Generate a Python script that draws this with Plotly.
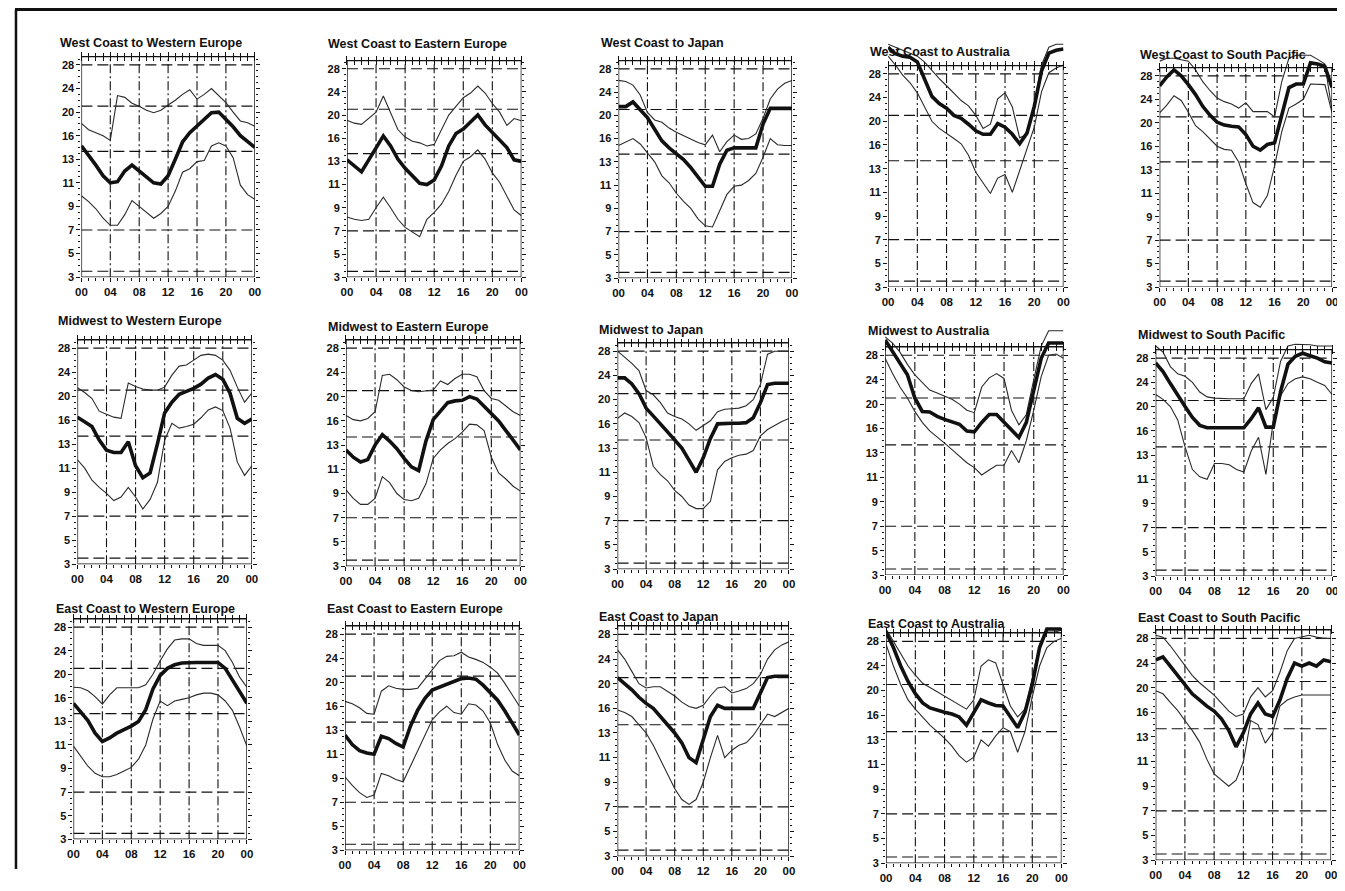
import numpy as np
import plotly.graph_objects as go

# HF propagation: maximum usable frequency (MHz) by hour UTC
HOURS = list(range(25))
TICK_MHZ = [3, 5, 7, 9, 11, 13, 16, 20, 24, 28]
TICK_TEXT = ["3", "5", "7", "9", "11", "13", "16", "20", "24", "28"]
HOUR_TICKS = [0, 4, 8, 12, 16, 20, 24]
HOUR_TEXT = ["00", "04", "08", "12", "16", "20", "00"]
BAND_LINES = [3.5, 7, 14, 21, 28]

TITLES = [
    "West Coast to Western Europe", "West Coast to Eastern Europe", "West Coast to Japan",
    "West Coast to Australia", "West Coast to South Pacific",
    "Midwest to Western Europe", "Midwest to Eastern Europe", "Midwest to Japan",
    "Midwest to Australia", "Midwest to South Pacific",
    "East Coast to Western Europe", "East Coast to Eastern Europe", "East Coast to Japan",
    "East Coast to Australia", "East Coast to South Pacific",
]

MEDIAN = [
    [14.7, 13.5, 12.5, 11.6, 11.0, 11.1, 12.0, 12.5, 12.0, 11.5, 11.0, 10.9, 11.6, 13.0, 15.2, 16.5, 17.6, 18.8, 19.9, 20.0, 18.8, 17.5, 16.0, 15.2, 14.5],
    [13.2, 12.6, 12.1, 13.2, 14.7, 16.4, 15.0, 13.3, 12.4, 11.7, 11.1, 11.0, 11.4, 12.6, 15.0, 16.8, 17.6, 18.8, 20.0, 18.3, 17.0, 15.8, 14.8, 13.2, 13.0],
    [21.5, 21.5, 22.3, 21.0, 19.6, 17.6, 15.7, 14.8, 14.0, 13.3, 12.5, 11.7, 10.9, 10.9, 12.8, 14.5, 14.8, 14.8, 14.8, 14.8, 18.5, 21.2, 21.2, 21.2, 21.2],
    [32.5, 31.4, 31.0, 30.8, 30.0, 27.0, 24.2, 23.0, 22.2, 21.0, 20.5, 19.5, 18.4, 17.8, 17.8, 19.6, 19.0, 17.8, 16.2, 18.0, 22.5, 28.5, 31.5, 32.0, 32.2],
    [26.3, 27.8, 29.0, 28.0, 26.5, 24.8, 22.8, 21.3, 20.1, 19.6, 19.4, 19.3, 18.0, 16.0, 15.5, 16.3, 16.6, 21.5, 26.0, 26.6, 26.6, 30.2, 30.0, 29.6, 26.0],
    [16.5, 15.8, 15.2, 13.5, 12.5, 12.3, 12.3, 13.3, 11.2, 10.2, 10.6, 13.0, 17.2, 19.0, 20.3, 20.8, 21.3, 22.0, 23.0, 23.6, 22.8, 20.5, 16.3, 15.6, 16.2],
    [12.6, 12.0, 11.6, 11.8, 13.0, 14.3, 13.5, 12.7, 11.9, 11.2, 10.9, 13.5, 16.2, 17.7, 19.0, 19.3, 19.4, 20.0, 19.6, 18.4, 17.2, 16.0, 14.8, 13.6, 12.6],
    [23.6, 23.6, 22.6, 21.0, 18.6, 17.2, 16.0, 15.0, 14.0, 13.0, 12.0, 11.0, 12.2, 14.2, 16.0, 16.1, 16.1, 16.1, 16.2, 17.0, 19.5, 22.5, 22.7, 22.7, 22.7],
    [30.5, 28.6, 26.8, 24.8, 21.0, 18.8, 18.7, 18.0, 17.5, 17.1, 16.7, 15.7, 15.6, 17.0, 18.3, 18.3, 17.0, 15.8, 14.9, 17.0, 22.0, 27.5, 30.0, 30.0, 30.0],
    [27.2, 25.8, 23.8, 21.8, 20.0, 18.2, 16.9, 16.5, 16.5, 16.5, 16.5, 16.5, 16.5, 18.0, 19.8, 16.6, 16.6, 22.5, 27.0, 28.3, 28.8, 28.4, 28.0, 27.4, 27.2],
    [15.3, 14.2, 13.1, 12.0, 11.3, 11.6, 12.0, 12.3, 12.6, 13.0, 14.5, 17.5, 19.8, 21.0, 21.6, 21.9, 22.0, 22.0, 22.0, 22.0, 22.0, 21.0, 19.0, 17.0, 15.3],
    [12.6, 11.8, 11.3, 11.1, 11.0, 12.5, 12.3, 11.9, 11.6, 13.5, 15.5, 17.3, 18.7, 19.2, 19.6, 20.1, 20.6, 20.7, 20.5, 19.5, 18.3, 17.0, 15.4, 14.0, 12.6],
    [21.0, 20.0, 19.0, 17.8, 16.8, 16.0, 15.0, 14.0, 13.0, 12.2, 11.0, 10.6, 12.5, 15.0, 16.5, 16.0, 16.0, 16.0, 16.0, 16.0, 18.5, 21.0, 21.2, 21.2, 21.2],
    [29.5, 27.0, 24.0, 21.5, 19.5, 18.0, 17.2, 16.8, 16.5, 16.2, 15.8, 14.8, 16.5, 18.5, 18.0, 17.6, 17.5, 15.8, 14.5, 16.5, 21.0, 27.0, 30.0, 30.0, 30.0],
    [24.5, 25.0, 23.5, 22.0, 20.5, 19.0, 18.0, 17.0, 16.2, 15.2, 13.8, 12.2, 13.5, 15.8, 17.5, 15.8, 15.5, 18.0, 21.5, 24.0, 23.5, 24.0, 23.5, 24.5, 24.2],
]

UPPER = [
    [18.1, 17.0, 16.5, 16.0, 15.4, 22.8, 22.5, 21.5, 21.0, 20.3, 19.9, 20.3, 21.2, 22.0, 23.0, 23.8, 22.2, 23.0, 24.0, 22.8, 21.6, 20.0, 18.5, 18.2, 17.6],
    [19.1, 18.6, 18.4, 19.5, 20.5, 23.3, 20.5, 17.5, 16.2, 15.6, 15.4, 15.0, 15.2, 17.5, 20.0, 21.5, 23.0, 23.8, 25.0, 23.8, 22.0, 20.5, 18.2, 19.4, 19.0],
    [26.0, 25.8, 25.2, 23.5, 20.5, 19.2, 18.8, 17.8, 17.1, 16.5, 16.0, 15.5, 15.2, 16.6, 14.3, 15.6, 16.6, 15.9, 16.0, 16.8, 19.5, 22.8, 24.5, 25.5, 26.0],
    [33.0, 32.5, 32.0, 31.5, 31.0, 30.0, 28.5, 27.2, 26.0, 24.8, 23.5, 22.6, 21.0, 18.8, 19.5, 23.8, 24.8, 22.4, 17.2, 17.8, 23.0, 29.5, 32.5, 33.0, 33.0],
    [30.5, 31.0, 31.0, 30.8, 30.5, 29.0, 27.0, 25.5, 24.2, 23.6, 23.2, 22.5, 23.4, 21.9, 21.9, 21.9, 21.0, 27.0, 31.0, 31.5, 31.5, 31.5, 30.8, 30.0, 22.0],
    [21.4, 20.6, 19.6, 17.5, 17.0, 16.5, 16.3, 22.2, 21.6, 21.2, 21.0, 21.0, 21.5, 23.5, 25.0, 25.2, 26.0, 26.8, 27.0, 26.8, 26.0, 24.3, 21.5, 19.0, 20.5],
    [16.9, 16.2, 16.0, 16.4, 17.5, 23.5, 23.7, 22.8, 21.6, 21.0, 20.8, 20.9, 21.1, 22.6, 22.0, 23.0, 23.7, 23.7, 23.3, 21.0, 19.7, 19.4, 18.5, 17.5, 16.9],
    [28.0, 27.0, 26.0, 24.8, 21.5, 20.8, 19.5, 17.8, 17.2, 16.8, 16.0, 15.2, 15.8, 16.5, 18.0, 18.4, 18.5, 18.6, 19.0, 20.0, 22.5, 27.5, 28.0, 28.0, 28.0],
    [31.0, 30.0, 28.5, 26.5, 24.8, 23.6, 22.3, 21.8, 21.3, 20.8, 20.0, 19.0, 18.6, 22.8, 24.3, 25.0, 24.2, 19.0, 16.6, 18.3, 24.0, 29.5, 32.0, 32.0, 32.0],
    [30.0, 29.0, 26.6, 25.4, 25.0, 24.0, 22.4, 21.6, 21.4, 21.3, 21.3, 21.3, 21.3, 23.8, 25.4, 19.5, 21.5, 27.5, 30.0, 30.3, 30.3, 30.2, 30.0, 30.0, 30.0],
    [17.8, 17.7, 17.2, 16.2, 15.2, 16.5, 17.7, 17.7, 17.7, 17.7, 18.2, 20.0, 22.3, 24.3, 25.8, 26.0, 26.0, 25.2, 24.9, 24.9, 24.9, 24.0, 22.0, 19.5, 17.8],
    [16.8, 16.4, 15.8, 15.1, 15.0, 18.5, 19.4, 19.0, 18.8, 18.8, 19.0, 20.5, 21.9, 23.6, 24.3, 24.4, 25.0, 24.2, 23.8, 23.3, 22.5, 21.5, 19.8, 17.8, 16.0],
    [25.5, 24.0, 22.0, 20.0, 19.3, 19.5, 19.5, 18.8, 18.0, 17.0, 16.3, 16.0, 16.5, 18.0, 19.3, 19.5, 18.5, 18.8, 19.2, 20.0, 21.5, 24.0, 25.5, 26.3, 26.8],
    [30.0, 28.0, 26.0, 24.0, 22.5, 21.2, 20.5, 19.8, 19.0, 18.3, 17.6, 17.0, 18.5, 24.0, 25.0, 24.5, 21.0, 17.5, 15.8, 17.0, 22.0, 27.5, 29.5, 29.5, 29.8],
    [28.5, 28.2, 26.8, 25.2, 23.5, 22.0, 20.8, 19.8, 18.8, 17.5, 16.2, 15.5, 15.8, 18.5, 20.0, 18.5, 19.5, 22.5, 26.0, 28.0, 28.2, 28.5, 28.2, 28.0, 28.0],
]

LOWER = [
    [9.9, 9.4, 8.8, 8.0, 7.4, 7.4, 8.3, 9.5, 9.0, 8.5, 8.0, 8.4, 9.0, 10.3, 11.9, 12.2, 12.8, 12.9, 14.7, 15.1, 14.7, 13.2, 10.8, 10.0, 9.6],
    [8.2, 8.0, 7.9, 8.0, 9.0, 9.9, 9.0, 8.0, 7.3, 6.9, 6.5, 8.0, 8.6, 9.3, 10.4, 11.8, 13.0, 13.6, 14.5, 13.3, 12.0, 11.2, 10.0, 8.8, 8.3],
    [15.1, 15.5, 16.0, 15.3, 14.2, 13.0, 11.8, 11.2, 10.3, 9.6, 9.0, 8.1, 7.5, 7.4, 8.8, 10.2, 10.9, 11.0, 11.4, 12.0, 13.6, 16.0, 15.2, 15.1, 15.1],
    [31.0, 29.5, 27.8, 26.5, 24.8, 22.5, 20.0, 18.8, 18.0, 17.1, 16.2, 14.7, 12.7, 11.8, 10.9, 12.2, 12.5, 11.0, 12.8, 15.5, 19.0, 25.0, 28.2, 29.0, 29.5],
    [21.7, 23.0, 24.6, 23.8, 21.8, 19.5, 18.5, 17.2, 16.0, 15.6, 15.5, 14.0, 11.8, 10.2, 9.8, 10.8, 13.5, 18.5, 22.5, 23.2, 24.0, 26.6, 26.6, 26.5, 21.7],
    [11.7, 11.0, 10.0, 9.4, 8.9, 8.3, 8.6, 9.4, 8.6, 7.6, 8.4, 9.8, 13.5, 15.6, 15.0, 15.2, 15.5, 16.4, 17.7, 18.2, 17.6, 15.0, 11.5, 10.4, 11.2],
    [9.3, 8.6, 8.1, 8.1, 8.6, 10.4, 9.9, 9.0, 8.5, 8.4, 8.6, 9.8, 11.9, 12.6, 13.2, 13.8, 14.6, 15.6, 15.5, 14.8, 12.0, 10.7, 10.2, 9.6, 9.2],
    [16.9, 17.8, 17.2, 16.2, 14.3, 11.5, 10.8, 10.3, 9.5, 9.0, 8.3, 8.0, 8.0, 8.6, 11.2, 11.9, 12.2, 12.4, 12.5, 12.8, 14.5, 15.3, 15.8, 16.4, 16.9],
    [27.5, 25.0, 22.8, 21.0, 18.8, 17.0, 15.7, 15.0, 14.2, 13.4, 12.7, 12.2, 11.8, 11.2, 11.6, 12.0, 12.0, 13.3, 12.2, 14.5, 19.0, 24.5, 28.0, 28.2, 27.5],
    [22.0, 21.2, 20.0, 17.8, 14.0, 11.8, 11.2, 11.0, 12.3, 12.3, 12.2, 11.8, 11.6, 13.5, 15.2, 11.4, 17.5, 21.8, 23.8, 24.6, 24.9, 24.6, 24.0, 23.5, 22.0],
    [10.9, 10.0, 9.2, 8.6, 8.3, 8.3, 8.5, 8.8, 9.1, 9.8, 11.0, 13.3, 15.6, 15.0, 15.6, 15.8, 16.0, 16.5, 16.8, 16.8, 16.5, 15.6, 14.4, 12.5, 10.9],
    [9.1, 8.4, 7.8, 7.4, 7.6, 9.4, 9.2, 8.9, 8.7, 10.0, 11.3, 12.7, 14.3, 15.3, 16.0, 15.2, 15.0, 16.4, 16.2, 15.4, 13.9, 11.8, 10.5, 9.6, 9.2],
    [15.8, 15.5, 15.0, 14.0, 13.0, 12.0, 10.8, 9.6, 8.5, 7.6, 7.2, 7.6, 9.0, 11.0, 12.8, 11.0, 11.6, 12.0, 12.2, 12.8, 14.0, 15.3, 15.0, 15.5, 16.0],
    [27.5, 24.0, 21.0, 18.5, 17.0, 15.8, 14.8, 14.0, 13.2, 12.5, 11.7, 11.2, 11.6, 13.0, 12.5, 13.5, 14.5, 14.0, 12.0, 14.0, 19.0, 24.0, 27.0, 28.0, 28.5],
    [19.5, 19.0, 17.6, 16.3, 15.0, 13.8, 12.6, 11.2, 10.0, 9.5, 9.0, 9.5, 11.0, 15.0, 14.5, 12.5, 13.5, 17.0, 18.0, 18.5, 18.8, 18.8, 18.8, 18.8, 18.8],
]

# panel frames in page pixels: left, right, top, bottom (bottom = 3 MHz)
BOXES = [
    (76, 251, 57, 279), (344, 520, 61, 279), (618, 793, 61, 280), (890, 1067, 66, 289), (1164, 1338, 68, 289),
    (72, 248, 342, 568), (343, 519, 342, 570), (617, 790, 345, 573), (887, 1067, 349, 579), (1160, 1338, 352, 580),
    (68, 243, 623, 845), (342, 518, 630, 856), (617, 790, 630, 862), (888, 1065, 637, 869), (1160, 1337, 634, 866),
]
TITLE_POS = [
    (52, 43), (323, 44), (598, 43), (870, 52), (1142, 55),
    (50, 323), (323, 329), (596, 332), (868, 333), (1140, 337),
    (48, 613), (322, 613), (596, 621), (868, 628), (1140, 622),
]

PAGE = 8                       # default body margin of the html page
W, H = 1345 - PAGE, 891 - PAGE
BOX_TOP = 9.35                 # top of frame in scale units
Y_MAX = 10.4                   # curves may run a little above the frame
INK = "#111111"
FONT = "Liberation Sans, Arial, sans-serif"


def to_scale(mhz):
    v = np.asarray(mhz, dtype=float)
    pos = np.interp(v, TICK_MHZ, np.arange(len(TICK_MHZ)))
    pos = np.where(v > TICK_MHZ[-1], len(TICK_MHZ) - 1 + (v - TICK_MHZ[-1]) / 4.0, pos)
    return pos


def px(x):
    return (x - PAGE) / W


def py(y):
    return 1 - (y - PAGE) / H


fig = go.Figure()
layout = {}
shapes = []
annotations = []
n = len(TITLES)
minor_y = [k / 4 for k in range(0, 38) if k % 4 and k / 4 < BOX_TOP]

for i in range(n):
    ax = "" if i == 0 else str(i + 1)
    top_ax = str(n + i + 1)
    left, right, top, bottom = BOXES[i]
    unit = (bottom - top) / BOX_TOP
    dom_top = max(bottom - Y_MAX * unit, PAGE)
    y_max = (bottom - dom_top) / unit
    y_dom = [py(bottom), py(dom_top)]
    x_dom = [px(left), px(right)]

    for series, width, color in ((LOWER[i], 1.1, "#2a2a2a"), (UPPER[i], 1.1, "#2a2a2a"), (MEDIAN[i], 3.6, INK)):
        fig.add_trace(go.Scatter(
            x=HOURS, y=to_scale(series), mode="lines",
            line={"color": color, "width": width},
            xaxis="x" + ax, yaxis="y" + ax, showlegend=False, hoverinfo="skip",
        ))
    # invisible trace so the tick row across the top of the frame is drawn
    fig.add_trace(go.Scatter(
        x=[0], y=[0], mode="lines", line={"width": 0},
        xaxis="x" + top_ax, yaxis="y" + ax, showlegend=False, hoverinfo="skip",
    ))

    layout["xaxis" + ax] = dict(
        domain=x_dom, anchor="y" + ax, range=[0, 24], showgrid=False, zeroline=False,
        showline=False, tickvals=HOUR_TICKS, ticktext=HOUR_TEXT,
        ticks="outside", ticklen=4, tickwidth=1.2, tickcolor=INK,
        minor=dict(tickvals=HOURS, ticks="outside", ticklen=3, tickcolor=INK, tickwidth=1),
        tickfont=dict(family=FONT, size=11.5, color=INK, weight="bold"),
    )
    # '+' marks across the top edge: axis sits just below the frame, ticks point up through it
    layout["xaxis" + top_ax] = dict(
        overlaying="x" + ax, anchor="free", position=py(top + 4), side="top",
        range=[0, 24], showgrid=False, zeroline=False, showline=False, showticklabels=False,
        tickvals=HOUR_TICKS, ticks="outside", ticklen=9, tickwidth=1.2, tickcolor=INK,
        minor=dict(tickvals=HOURS, ticks="outside", ticklen=8, tickcolor=INK, tickwidth=1),
    )
    layout["yaxis" + ax] = dict(
        domain=y_dom, anchor="x" + ax, range=[0, y_max], showgrid=False, zeroline=False,
        showline=False, tickvals=list(range(len(TICK_MHZ))), ticktext=TICK_TEXT,
        ticks="outside", ticklen=4, tickwidth=1.2, tickcolor=INK, mirror="ticks",
        minor=dict(tickvals=minor_y, ticks="outside", ticklen=2, tickcolor=INK, tickwidth=1),
        tickfont=dict(family=FONT, size=11, color=INK, weight="bold"),
    )

    xr, yr = "x" + ax, "y" + ax
    for mhz in BAND_LINES:
        yv = float(to_scale([mhz])[0])
        shapes.append(dict(type="line", xref=xr, yref=yr, x0=0, x1=24, y0=yv, y1=yv,
                           line=dict(color=INK, width=1.2, dash="11px,5px"), layer="below"))
    for hr in HOUR_TICKS[1:-1]:
        shapes.append(dict(type="line", xref=xr, yref=yr, x0=hr, x1=hr, y0=0, y1=BOX_TOP,
                           line=dict(color=INK, width=1.1, dash="9px,3px,2px,3px"), layer="below"))
    shapes.append(dict(type="rect", xref=xr, yref=yr, x0=0, x1=24, y0=0, y1=BOX_TOP,
                       line=dict(color=INK, width=1.4), layer="above"))

    tx, ty = TITLE_POS[i]
    annotations.append(dict(
        text=TITLES[i], xref="paper", yref="paper", x=px(tx), y=py(ty),
        xanchor="left", yanchor="middle", showarrow=False,
        font=dict(family=FONT, size=12.5, color=INK, weight="bold"),
    ))

# scanned page border (top rule and left rule)
shapes.append(dict(type="line", xref="paper", yref="paper", x0=px(9), x1=1, y0=py(9.5), y1=py(9.5),
                   line=dict(color=INK, width=3)))
shapes.append(dict(type="line", xref="paper", yref="paper", x0=px(10), x1=px(10), y0=py(9.5), y1=py(875),
                   line=dict(color=INK, width=2.5)))

fig.update_layout(
    width=W, height=H, autosize=False,
    margin=dict(l=0, r=0, t=0, b=0),
    plot_bgcolor="white", paper_bgcolor="white",
    shapes=shapes, annotations=annotations,
    font=dict(family=FONT, color=INK),
    **layout,
)

fig.write_html("out.html")
